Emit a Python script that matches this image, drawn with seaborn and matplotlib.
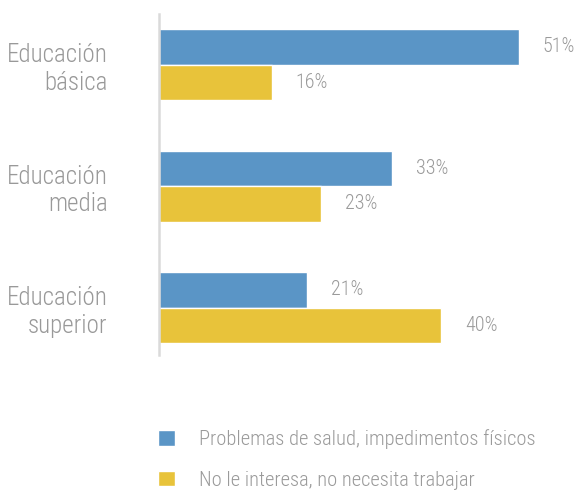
import pandas as pd
import seaborn as sns
from matplotlib import pyplot as plt
from matplotlib import font_manager

niveles = ["Educación\nbásica", "Educación\nmedia", "Educación\nsuperior"]
motivos = ["Problemas de salud, impedimentos físicos",
           "No le interesa, no necesita trabajar"]
salud = [51, 33, 21]
no_interesa = [16, 23, 40]

colores = ["#5A95C6", "#E8C33A"]

df = pd.DataFrame({
    "nivel": niveles * 2,
    "motivo": [motivos[0]] * 3 + [motivos[1]] * 3,
    "valor": salud + no_interesa,
})

sns.set_style("white")
nombres = {f.name for f in font_manager.fontManager.ttflist}
familia = "Roboto Condensed" if "Roboto Condensed" in nombres else "Liberation Sans Narrow"
plt.rcParams["font.family"] = [familia, "DejaVu Sans"]
plt.rcParams["font.weight"] = "light"

fig = plt.figure(figsize=(5.79, 4.90), dpi=100)
ax = fig.add_axes([0.2746, 0.2755, 0.7254, 0.6959])

sns.barplot(data=df, y="nivel", x="valor", hue="motivo", palette=colores,
            width=0.584, orient="h", saturation=1, ax=ax)

for cont in ax.containers:
    ax.bar_label(cont, labels=[f"{int(v)}%" for v in cont.datavalues],
                 padding=17, fontsize=14.5, color="#9a9a9a")

ax.set_xlim(0, 59.5)
ax.set_ylim(2.39, -0.416)
ax.set_xlabel("")
ax.set_ylabel("")
ax.set_xticks([])
ax.tick_params(axis="y", length=0, pad=37, labelsize=18, labelcolor="#999999")

for s in ["top", "right", "bottom"]:
    ax.spines[s].set_visible(False)
ax.spines["left"].set_color("#dadada")
ax.spines["left"].set_linewidth(1.8)

handles, labels = ax.get_legend_handles_labels()
ax.legend(handles, labels, loc="upper left",
          bbox_to_anchor=(150 / 579, 1 - 421 / 490), bbox_transform=fig.transFigure,
          frameon=False, fontsize=14.8, labelcolor="#9a9a9a",
          handlelength=0.8, handleheight=0.8, handletextpad=1.2,
          labelspacing=1.05, borderaxespad=0)

fig.savefig("out.png", dpi=100)
